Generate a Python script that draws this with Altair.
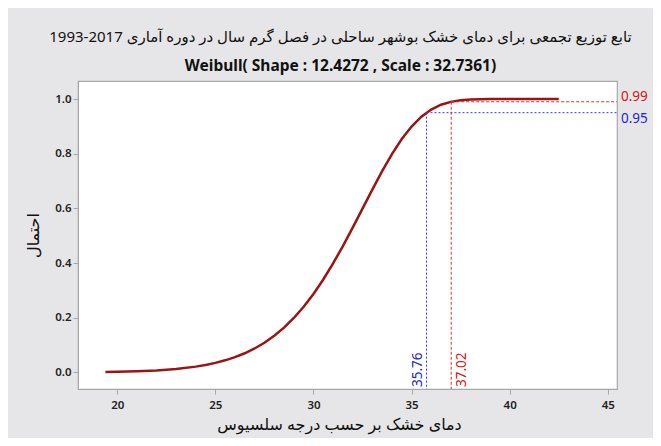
import altair as alt
import pandas as pd

# ---- data ----
temp = [19.4, 20, 21, 22, 23, 24, 24.5, 25, 25.5, 26, 26.5, 27, 27.5, 28, 28.5,
        29, 29.5, 30, 30.5, 31, 31.5, 32, 32.5, 33, 33.5, 34, 34.5, 35, 35.5,
        36, 36.5, 37, 37.5, 38, 39, 40, 42.5]
prob = [0.0015, 0.0022, 0.0040, 0.0071, 0.0124, 0.0209, 0.0269, 0.0345, 0.0439,
        0.0555, 0.0698, 0.0872, 0.1083, 0.1336, 0.1636, 0.1988, 0.2399, 0.2868,
        0.3397, 0.3983, 0.4620, 0.5294, 0.5991, 0.6687, 0.7360, 0.7984, 0.8534,
        0.8993, 0.9353, 0.9616, 0.9791, 0.9897, 0.9955, 0.9983, 0.9998, 1.0, 1.0]

ref_prob = [0.95, 0.99]
ref_temp = [35.76, 37.02]
ref_prob_label = ["0.95", "0.99"]
ref_temp_label = ["35.76", "37.02"]
ref_line_color = ["#3a3af0", "#d83030"]
ref_text_color = ["#2424d8", "#d41414"]
ref_dash = [[2, 2], [3, 2]]
ref_side = ["bottom", "top"]
ref_label_shift = [6, -5]

x_ticks = [20, 25, 30, 35, 40, 45]
y_ticks = [0.0, 0.2, 0.4, 0.6, 0.8, 1.0]
x_domain = [18.0, 45.47]
y_domain = [-0.061, 1.066]

# the year span is stored so that the right-to-left line shows "1993-2017"
title_line1 = "تابع توزیع تجمعی برای دمای خشک بوشهر ساحلی در فصل گرم سال در دوره آماری 2017-1993"
title_line2 = "Weibull( Shape : 12.4272 , Scale : 32.7361)"
x_title = "دمای خشک بر حسب درجه سلسیوس"
y_title = "احتمال"

W, H = 539, 308
FONT = "Noto Sans, DejaVu Sans"

curve_df = pd.DataFrame({"temp": temp, "prob": prob})

xs = alt.Scale(domain=x_domain, nice=False, zero=False)
ys = alt.Scale(domain=y_domain, nice=False, zero=False)

curve = alt.Chart(curve_df).mark_line(color="#9b1414", strokeWidth=2.5).encode(
    x=alt.X("temp:Q", scale=xs, title=x_title,
            axis=alt.Axis(values=x_ticks, format="d", titleX=261, titleY=35,
                          titleBaseline="middle", labelPadding=5)),
    y=alt.Y("prob:Q", scale=ys, title=y_title,
            axis=alt.Axis(values=y_ticks, format=".1f", titleX=-45, titleY=H / 2,
                          titleBaseline="middle", labelPadding=2)),
)

layers = [curve]
for i in range(2):
    df = pd.DataFrame({"temp": [ref_temp[i]], "prob": [ref_prob[i]],
                       "pl": [ref_prob_label[i]], "tl": [ref_temp_label[i]]})
    base = alt.Chart(df)
    vline = base.mark_rule(color=ref_line_color[i], strokeDash=ref_dash[i],
                           strokeWidth=1).encode(
        x=alt.X("temp:Q", scale=xs), y=alt.Y("prob:Q", scale=ys),
        y2=alt.value(H))
    hline = base.mark_rule(color=ref_line_color[i], strokeDash=ref_dash[i],
                           strokeWidth=1).encode(
        x=alt.X("temp:Q", scale=xs), x2=alt.value(W), y=alt.Y("prob:Q", scale=ys))
    ptext = base.mark_text(align="left", baseline="middle", fontSize=13.5,
                           font=FONT, color=ref_text_color[i], dx=4,
                           dy=ref_label_shift[i]).encode(
        x=alt.value(W), y=alt.Y("prob:Q", scale=ys), text="pl:N")
    ttext = base.mark_text(align="left", baseline=ref_side[i], angle=270,
                           fontSize=13.5, font=FONT, color=ref_text_color[i],
                           dx=2, dy=(-1 if ref_side[i] == "bottom" else 4)).encode(
        x=alt.X("temp:Q", scale=xs), y=alt.value(H), text="tl:N")
    layers += [vline, hline, ptext, ttext]

chart = alt.layer(*layers).properties(
    width=W, height=H,
    autosize=alt.AutoSizeParams(type="none"),
    padding={"left": 70, "top": 73, "right": 36, "bottom": 49},
    background="#e6e6e8",
    title=alt.TitleParams(
        text=title_line1, subtitle=title_line2, anchor="middle",
        font=FONT, fontSize=15, fontWeight="normal", color="#111111",
        subtitleFont=FONT, subtitleFontSize=15.5, subtitleFontWeight="bold",
        subtitleColor="#111111", subtitlePadding=14, offset=7, dx=-7),
).configure_view(
    fill="white", stroke="#a8a8a8", strokeWidth=1.2
).configure_axis(
    grid=False, domainColor="#a8a8a8", tickColor="#a8a8a8", tickSize=5,
    labelFont=FONT, labelFontSize=11.5, labelFontWeight=600, labelColor="#222222",
    titleFont=FONT, titleFontSize=16, titleFontWeight="normal", titleColor="#111111",
)

chart.save("out.html", embed_options={"renderer": "svg", "actions": False})
